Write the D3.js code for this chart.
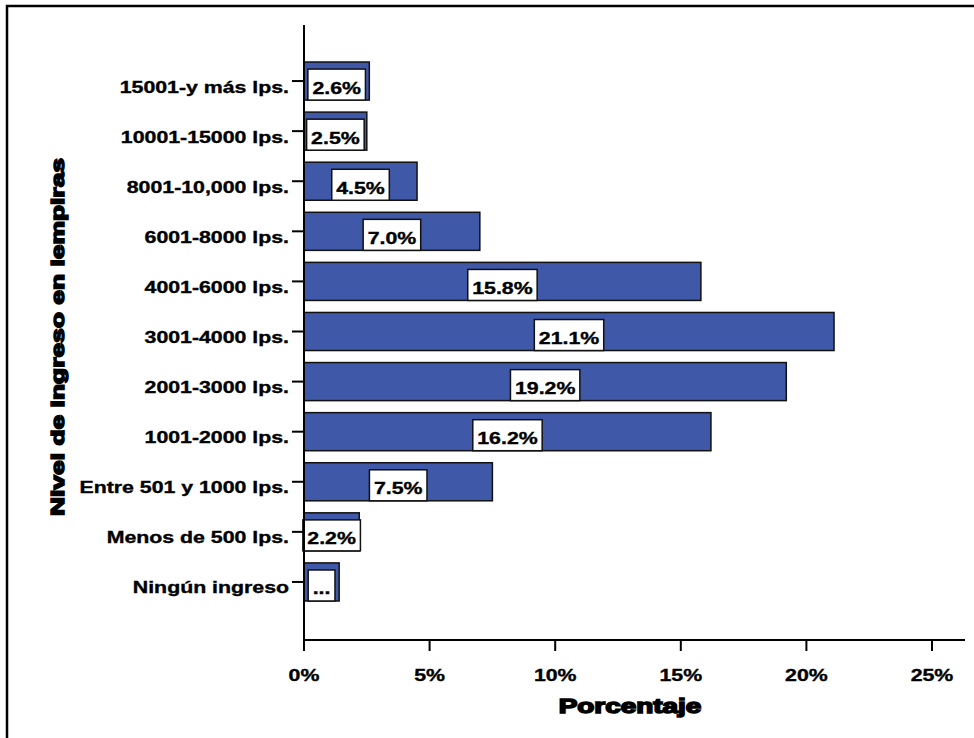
<!DOCTYPE html>
<html>
<head>
<meta charset="utf-8">
<script src="https://cdn.jsdelivr.net/npm/d3@7"></script>
<style>
  html, body { margin: 0; padding: 0; background: #ffffff; }
  svg { display: block; }
  text { font-family: "Liberation Sans", Arial, sans-serif; font-weight: bold; fill: #000; }
  text.lbl { stroke: #000; stroke-width: 0.35px; }
</style>
</head>
<body>
<svg id="chart" width="974" height="738"></svg>
<script>
// ---- Data (top to bottom as drawn) ----
const categories = [
  "15001-y más lps.",
  "10001-15000 lps.",
  "8001-10,000 lps.",
  "6001-8000 lps.",
  "4001-6000 lps.",
  "3001-4000 lps.",
  "2001-3000 lps.",
  "1001-2000 lps.",
  "Entre 501 y 1000 lps.",
  "Menos de 500 lps.",
  "Ningún ingreso"
];
const values = [2.6, 2.5, 4.5, 7.0, 15.8, 21.1, 19.2, 16.2, 7.5, 2.2, 1.4];
const valueLabels = ["2.6%", "2.5%", "4.5%", "7.0%", "15.8%", "21.1%", "19.2%", "16.2%", "7.5%", "2.2%", "..."];
const xTicks = [0, 5, 10, 15, 20, 25];
const xTickLabels = ["0%", "5%", "10%", "15%", "20%", "25%"];
const xTitle = "Porcentaje";
const yTitle = "Nivel de ingreso en lempiras";

const data = categories.map((c, i) => ({ cat: c, value: values[i], label: valueLabels[i] }));

// ---- Layout ----
const svg = d3.select("#chart");
const axisX = 304, axisTop = 25, axisBottom = 640, axisRight = 965;
const stretch = 1.3;      // horizontal stretch of the original's text
const fontSize = 16.4;

const x = d3.scaleLinear().domain([0, 25]).range([axisX, 932]);
const y = d3.scaleBand().domain(categories).range([56, 607]).paddingInner(0.24).paddingOuter(0.12);

// Frame
svg.append("rect")
  .attr("x", 7).attr("y", 6).attr("width", 1000).attr("height", 760)
  .attr("fill", "none").attr("stroke", "#000").attr("stroke-width", 2.5);

// Bars
svg.append("g").selectAll("rect").data(data).join("rect")
  .attr("x", x(0))
  .attr("y", d => y(d.cat))
  .attr("width", d => x(d.value) - x(0))
  .attr("height", y.bandwidth())
  .attr("fill", "#3f58a8")
  .attr("stroke", "#111")
  .attr("stroke-width", 1.5);

// Value label boxes
const lab = svg.append("g").selectAll("g").data(data).join("g");
lab.each(function(d) {
  const g = d3.select(this);
  const cx = (x(0) + x(d.value)) / 2;
  const bottom = y(d.cat) + y.bandwidth();
  const t = g.append("text")
    .attr("class", "lbl")
    .attr("text-anchor", "middle")
    .attr("font-size", fontSize)
    .attr("transform", `translate(${cx},${bottom - 6.5}) scale(${stretch},1)`)
    .text(d.label);
  const w = t.node().getComputedTextLength() * stretch + 9;
  g.insert("rect", "text")
    .attr("x", cx - w / 2).attr("y", bottom - 31)
    .attr("width", w).attr("height", 31)
    .attr("fill", "#fff").attr("stroke", "#111").attr("stroke-width", 1.5);
});

// Y axis
svg.append("line").attr("x1", axisX).attr("x2", axisX).attr("y1", axisTop).attr("y2", axisBottom)
  .attr("stroke", "#000").attr("stroke-width", 2);
const yt = svg.append("g").selectAll("g").data(categories).join("g");
yt.append("line")
  .attr("x1", axisX - 12).attr("x2", axisX)
  .attr("y1", d => y(d) + y.bandwidth() / 2).attr("y2", d => y(d) + y.bandwidth() / 2)
  .attr("stroke", "#000").attr("stroke-width", 2);
yt.append("text")
  .attr("class", "lbl")
  .attr("text-anchor", "end")
  .attr("font-size", fontSize)
  .attr("transform", d => `translate(289,${y(d) + y.bandwidth() / 2 + 11.5}) scale(${stretch},1)`)
  .text(d => d);

// X axis
svg.append("line").attr("x1", axisX - 1).attr("x2", axisRight).attr("y1", axisBottom).attr("y2", axisBottom)
  .attr("stroke", "#000").attr("stroke-width", 2);
const xt = svg.append("g").selectAll("g").data(xTicks).join("g");
xt.append("line")
  .attr("x1", d => x(d)).attr("x2", d => x(d))
  .attr("y1", axisBottom).attr("y2", axisBottom + 11)
  .attr("stroke", "#000").attr("stroke-width", 2);
xt.append("text")
  .attr("class", "lbl")
  .attr("text-anchor", "middle")
  .attr("font-size", fontSize)
  .attr("transform", d => `translate(${x(d)},${axisBottom + 40.5}) scale(${stretch},1)`)
  .text((d, i) => xTickLabels[i]);

// Axis titles
svg.append("text")
  .attr("text-anchor", "middle")
  .attr("font-size", 19.5)
  .attr("stroke", "#000").attr("stroke-width", 1.5)
  .attr("transform", `translate(630,712.5) scale(1.43,1)`)
  .text(xTitle);
svg.append("text")
  .attr("text-anchor", "middle")
  .attr("font-size", 19)
  .attr("stroke", "#000").attr("stroke-width", 1.5)
  .attr("transform", `translate(63.5,337) rotate(-90) scale(1.39,1)`)
  .text(yTitle);
</script>
</body>
</html>
